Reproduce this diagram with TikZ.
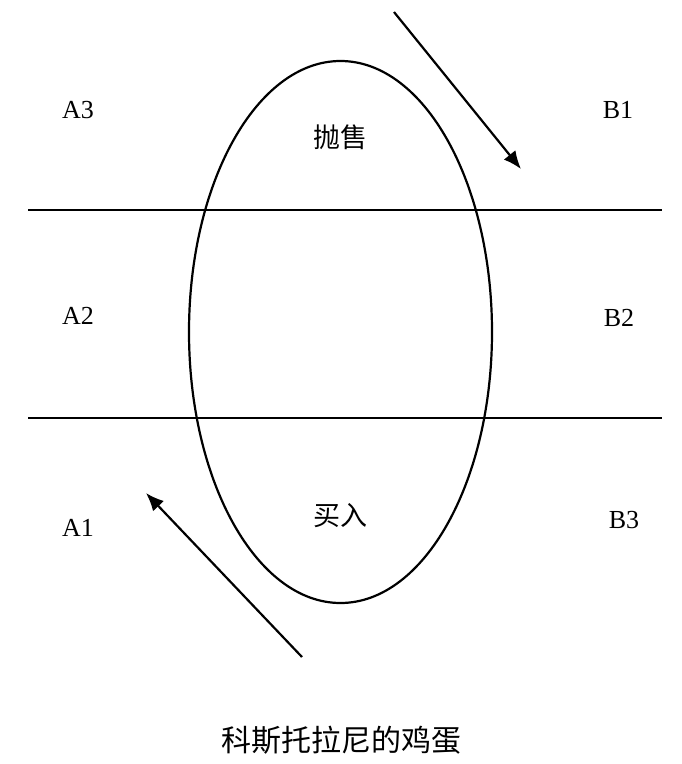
\documentclass[tikz,border=0pt]{standalone}
\usepackage{fontspec}
\setmainfont{Liberation Serif}
\newfontfamily\cjk{Noto Sans CJK SC}
\usetikzlibrary{shapes.geometric,arrows.meta}
\begin{document}
\begin{tikzpicture}[x=1pt,y=-1pt,
  lbl/.style={font=\fontsize{26}{30}\selectfont, inner sep=0pt},
  cn/.style={font=\cjk\fontsize{27}{30}\selectfont, inner sep=0pt},
  rule/.style={line width=2.2pt},
  flow/.style={line width=2.2pt, -{Latex[length=18pt,width=15pt]}}]
\useasboundingbox[fill=white] (0,0) rectangle (682,764);
\node[draw, ellipse, line width=2.2pt, minimum width=303pt, minimum height=542pt, inner sep=0pt] (egg) at (340.5,332) {};
\coordinate (l1) at (28,210); \coordinate (r1) at (662,210);
\coordinate (l2) at (28,418); \coordinate (r2) at (662,418);
\draw[rule] (l1) -- (r1);
\draw[rule] (l2) -- (r2);
\coordinate (ts) at (394,12); \coordinate (te) at (521,169);
\coordinate (bs) at (302,657); \coordinate (be) at (146,493);
\draw[flow] (ts) -- (te);
\draw[flow] (bs) -- (be);
\node[lbl] (a3) at (78,110) {A3};
\node[lbl] (a2) at (78,316) {A2};
\node[lbl] (a1) at (78,528) {A1};
\node[lbl] (b1) at (618,110) {B1};
\node[lbl] (b2) at (619,318) {B2};
\node[lbl] (b3) at (624,520) {B3};
\node[cn] (sell) at (340,137) {抛售};
\node[cn] (buy) at (340,516) {买入};
\node[font=\cjk\fontsize{30}{34}\selectfont, inner sep=0pt] (cap) at (341,740) {科斯托拉尼的鸡蛋};
\end{tikzpicture}
\end{document}
